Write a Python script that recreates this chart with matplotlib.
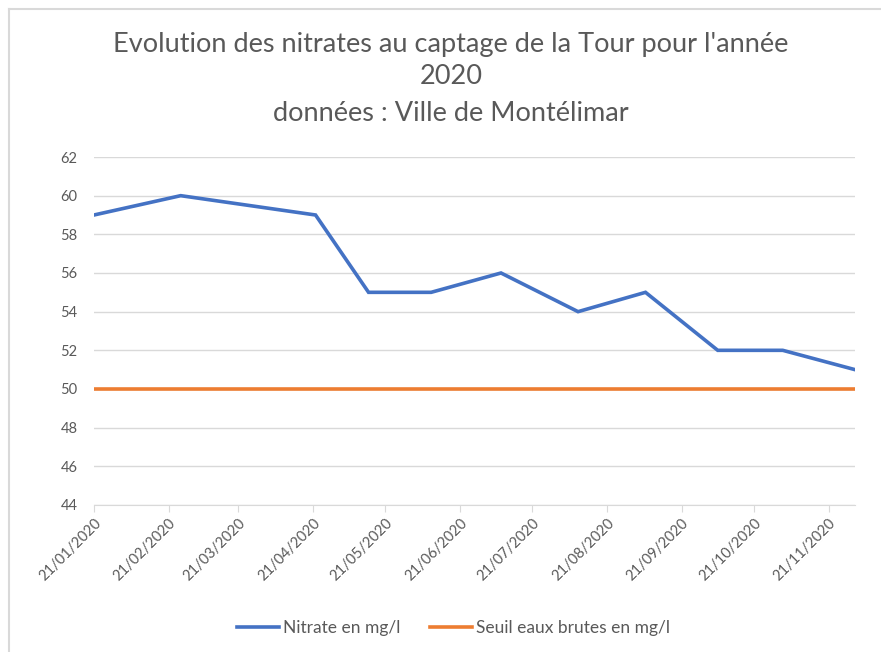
import datetime as dt
import matplotlib
matplotlib.use("Agg")
import matplotlib.pyplot as plt
import matplotlib.dates as mdates
from matplotlib.lines import Line2D

# mesures nitrates 2020
dates = ["2020-01-21", "2020-02-26", "2020-04-22", "2020-05-14", "2020-06-09",
         "2020-07-08", "2020-08-09", "2020-09-06", "2020-10-06", "2020-11-02",
         "2020-12-02"]
nitrate = [59, 60, 59, 55, 55, 56, 54, 55, 52, 52, 51]
seuil = [50] * len(dates)
ticks = ["2020-%02d-21" % m for m in range(1, 12)]

x = [dt.datetime.strptime(d, "%Y-%m-%d") for d in dates]
xt = [dt.datetime.strptime(d, "%Y-%m-%d") for d in ticks]

plt.rcParams['font.family'] = ['Lato', 'DejaVu Sans']
gris = "#595959"

fig = plt.figure(figsize=(8.81, 6.52), dpi=100)
ax = fig.add_axes([0.1067, 0.2255, 0.8638, 0.5337])

ax.plot(x, nitrate, color="#4472C4", lw=2.6, label="Nitrate en mg/l", solid_joinstyle="miter")
ax.plot(x, seuil, color="#ED7D31", lw=2.6, label="Seuil eaux brutes en mg/l")

ax.set_xlim(x[0], x[-1])
ax.set_ylim(44, 62)
ax.set_yticks(range(44, 63, 2))
ax.set_xticks(xt)
ax.xaxis.set_major_formatter(mdates.DateFormatter("%d/%m/%Y"))
plt.setp(ax.get_xticklabels(), rotation=45, ha="right", rotation_mode="anchor")

ax.grid(axis="y", color="#d9d9d9", lw=1)
ax.set_axisbelow(True)
for s in ["top", "right", "left"]:
    ax.spines[s].set_visible(False)
ax.spines["bottom"].set_color("#d9d9d9")
ax.tick_params(axis="y", length=0, labelsize=10.5, labelcolor=gris, pad=12)
ax.tick_params(axis="x", length=5, color="#d9d9d9", labelsize=10.5, labelcolor=gris, pad=3)

titre = dict(ha="center", va="center", fontsize=19.5, color=gris)
fig.text(0.512, 0.931, "Evolution des nitrates au captage de la Tour pour l'année", **titre)
fig.text(0.512, 0.882, "2020", **titre)
fig.text(0.512, 0.826, "données : Ville de Montélimar", **titre)

leg = fig.legend(loc="center", bbox_to_anchor=(0.515, 0.037), ncol=2, frameon=False,
                 fontsize=12.5, handlelength=2.4, columnspacing=1.7, handletextpad=0.25)
for t in leg.get_texts():
    t.set_color(gris)

# cadre gris (haut et gauche)
fig.add_artist(Line2D([8.5 / 881, 1], [1 - 8.5 / 652] * 2, transform=fig.transFigure,
                      color="#d9d9d9", lw=1.5))
fig.add_artist(Line2D([8.5 / 881] * 2, [0, 1 - 8.5 / 652], transform=fig.transFigure,
                      color="#d9d9d9", lw=1.5))

plt.savefig("out.png", dpi=100)
